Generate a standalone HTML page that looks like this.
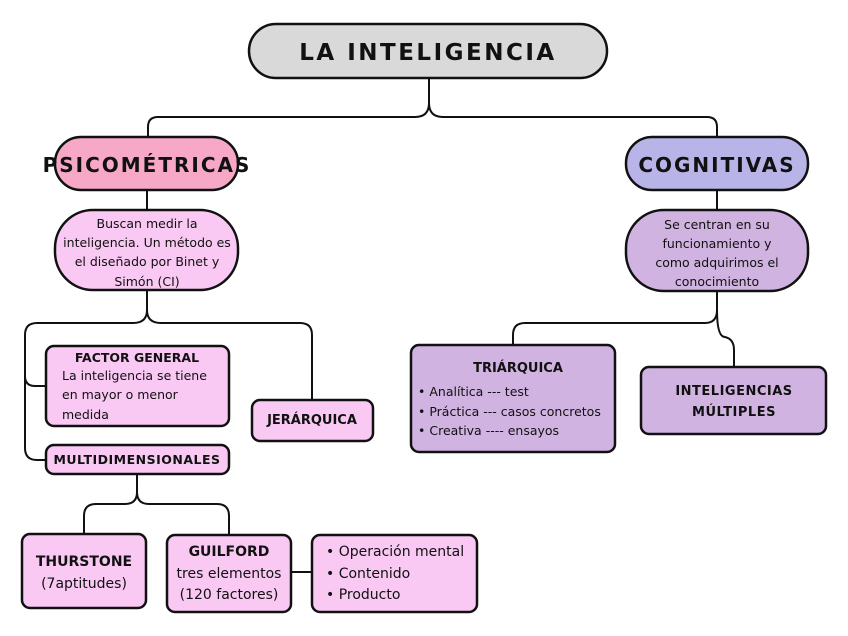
<!DOCTYPE html>
<html><head><meta charset="utf-8"><style>
html,body{margin:0;padding:0;background:#fff;}
svg{display:block;}
text{font-family:"Liberation Sans","DejaVu Sans",sans-serif;fill:#111;}
.h{font-family:"DejaVu Sans","Liberation Sans",sans-serif;font-weight:bold;}
.t{font-family:"DejaVu Sans","Liberation Sans",sans-serif;}
</style></head><body>
<svg width="848" height="636" viewBox="0 0 848 636" xmlns="http://www.w3.org/2000/svg">
<g fill="none" stroke="#111" stroke-width="2">
<!-- title connectors -->
<path d="M429 78 V103 Q429 117 415 117 H158 Q148 117 148 127 V137"/>
<path d="M429 103 Q429 117 443 117 H707 Q717 117 717 127 V137"/>
<path d="M147 190 V210"/><path d="M717 190 V210"/>
<!-- left tree -->
<path d="M147 290 V310 Q147 323 133 323 H37 Q25 323 25 335 V448 Q25 460 37 460 H46"/>
<path d="M25 376 Q25 386 35 386 H46"/>
<path d="M147 310 Q147 323 161 323 H300 Q312 323 312 335 V400"/>
<!-- multi -->
<path d="M137 474 V492 Q137 504 125 504 H96 Q84 504 84 516 V534"/>
<path d="M137 492 Q137 504 149 504 H217 Q229 504 229 516 V535"/>
<path d="M291 572 H312"/>
<!-- right tree -->
<path d="M717 291 V310 Q717 323 705 323 H525 Q513 323 513 335 V345"/>
<path d="M717 310 Q717 337 725 337 Q734 339 734 350 V367"/>
</g>
<g stroke="#111" stroke-width="2.5">
<rect x="249" y="24" width="358" height="54" rx="27" fill="#d9d9d9"/>
<rect x="55" y="137" width="183" height="53" rx="26" fill="#f6a8c6"/>
<rect x="626" y="137" width="182" height="53" rx="26" fill="#b8b4e8"/>
<rect x="55" y="210" width="183" height="80" rx="38" fill="#f9c9f4"/>
<rect x="626" y="210" width="182" height="81" rx="38" fill="#d1b3e2"/>
<rect x="46" y="346" width="183" height="80" rx="8" fill="#f9c9f4"/>
<rect x="252" y="400" width="121" height="41" rx="8" fill="#f9c9f4"/>
<rect x="46" y="445" width="183" height="29" rx="8" fill="#f9c9f4"/>
<rect x="22" y="534" width="124" height="74" rx="8" fill="#f9c9f4"/>
<rect x="167" y="535" width="124" height="77" rx="8" fill="#f9c9f4"/>
<rect x="312" y="535" width="165" height="77" rx="8" fill="#f9c9f4"/>
<rect x="411" y="345" width="204" height="107" rx="8" fill="#d1b3e2"/>
<rect x="641" y="367" width="185" height="67" rx="8" fill="#d1b3e2"/>
</g>
<text x="428" y="60" text-anchor="middle" class="h" font-size="23" letter-spacing="2.5">LA INTELIGENCIA</text>
<text x="147" y="172" text-anchor="middle" class="h" font-size="20" letter-spacing="2">PSICOMÉTRICAS</text>
<text x="717" y="172" text-anchor="middle" class="h" font-size="20" letter-spacing="2">COGNITIVAS</text>
<g class="t" font-size="12.5" text-anchor="middle">
<text x="147" y="228" class="t">Buscan medir la</text>
<text x="147" y="247" class="t">inteligencia. Un método es</text>
<text x="147" y="266" class="t">el diseñado por Binet y</text>
<text x="147" y="286" class="t">Simón (CI)</text>
<text x="717" y="229" class="t">Se centran en su</text>
<text x="717" y="248" class="t">funcionamiento y</text>
<text x="717" y="267" class="t">como adquirimos el</text>
<text x="717" y="286" class="t">conocimiento</text>
</g>
<text x="137" y="362" text-anchor="middle" class="h" font-size="12.5">FACTOR GENERAL</text>
<g class="t" font-size="12.5">
<text x="62" y="380" class="t">La inteligencia se tiene</text>
<text x="62" y="399" class="t">en mayor o menor</text>
<text x="62" y="419" class="t">medida</text>
</g>
<text x="312" y="424" text-anchor="middle" class="h" font-size="13">JERÁRQUICA</text>
<text x="137" y="464" text-anchor="middle" class="h" font-size="12.5" letter-spacing="0.5">MULTIDIMENSIONALES</text>
<text x="84" y="566" text-anchor="middle" class="h" font-size="14">THURSTONE</text>
<text x="84" y="588" text-anchor="middle" class="t" font-size="14">(7aptitudes)</text>
<text x="229" y="556" text-anchor="middle" class="h" font-size="14">GUILFORD</text>
<text x="229" y="578" text-anchor="middle" class="t" font-size="14">tres elementos</text>
<text x="229" y="599" text-anchor="middle" class="t" font-size="14">(120 factores)</text>
<g class="t" font-size="14">
<text x="326" y="556" class="t">•  Operación mental</text>
<text x="326" y="578" class="t">•  Contenido</text>
<text x="326" y="599" class="t">•  Producto</text>
</g>
<text x="518" y="372" text-anchor="middle" class="h" font-size="13">TRIÁRQUICA</text>
<g class="t" font-size="12.5">
<text x="418" y="396" class="t">•  Analítica --- test</text>
<text x="418" y="416" class="t">•  Práctica --- casos concretos</text>
<text x="418" y="435" class="t">•  Creativa ---- ensayos</text>
</g>
<text x="734" y="395" text-anchor="middle" class="h" font-size="13" letter-spacing="0.5">INTELIGENCIAS</text>
<text x="734" y="416" text-anchor="middle" class="h" font-size="13" letter-spacing="0.5">MÚLTIPLES</text>
</svg>
</body></html>
